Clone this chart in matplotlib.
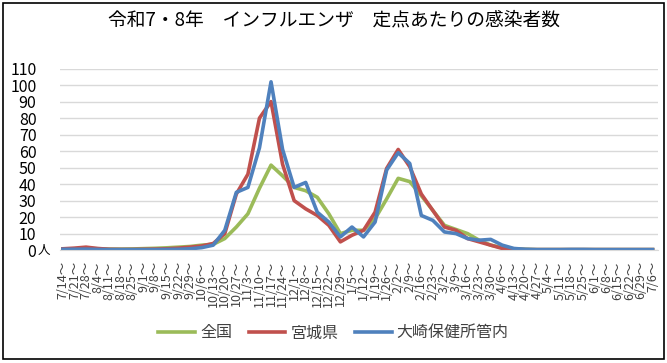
import matplotlib
matplotlib.use("Agg")
import matplotlib.pyplot as plt
from matplotlib.patches import Rectangle

plt.rcParams['font.family'] = ['Noto Sans CJK JP', 'DejaVu Sans']

weeks = ['7/14', '7/21', '7/28', '8/4', '8/11', '8/18', '8/25',
         '9/1', '9/8', '9/15', '9/22', '9/29',
         '10/6', '10/13', '10/20', '10/27',
         '11/3', '11/10', '11/17', '11/24',
         '12/1', '12/8', '12/15', '12/22', '12/29',
         '1/5', '1/12', '1/19', '1/26',
         '2/2', '2/9', '2/16', '2/23',
         '3/2', '3/9', '3/16', '3/23', '3/30',
         '4/6', '4/13', '4/20', '4/27',
         '5/4', '5/11', '5/18', '5/25',
         '6/1', '6/8', '6/15', '6/22', '6/29', '7/6']
tick_labels = [w + '～' for w in weeks]

zenkoku = [0.6, 0.8, 1.0, 0.8, 0.6, 0.6, 0.7, 0.9, 1.1, 1.4, 1.8, 2.2, 3.0,
           3.5, 7, 14, 22, 37.5, 51.5, 45, 38, 36, 32, 22, 10,
           12, 12, 19, 31, 43.5, 41.5, 33, 24, 15, 12.5, 10, 6, 3, 1.5,
           0.8, 0.5, 0.3, 0.3, 0.3, 0.3, 0.3, 0.3, 0.3, 0.3, 0.3, 0.3, 0.3]
miyagi = [0.8, 1.2, 1.8, 1.0, 0.5, 0.4, 0.4, 0.5, 0.6, 0.8, 1.2, 1.8, 2.5,
          4, 10, 34, 46, 80, 90, 52, 30, 25, 21, 15, 5,
          9, 12, 23, 49.5, 61, 50.5, 34, 24, 14, 12, 7, 5, 3, 1,
          0.5, 0.3, 0.3, 0.3, 0.3, 0.3, 0.3, 0.3, 0.3, 0.3, 0.3, 0.3, 0.3]
osaki = [0.5, 0.5, 0.6, 0.4, 0.3, 0.3, 0.3, 0.3, 0.3, 0.4, 0.5, 0.8, 1.5,
         3, 12, 35, 38, 62, 102, 61, 38, 41, 23, 17, 8,
         14, 8, 17, 48.5, 59, 52.5, 21, 18, 11, 10, 7, 6, 6.5, 3,
         1, 0.5, 0.3, 0.3, 0.3, 0.4, 0.4, 0.3, 0.3, 0.3, 0.3, 0.3, 0.3]

fig = plt.figure(figsize=(6.67, 3.63), dpi=100)
ax = fig.add_axes([0.09, 0.311, 0.897, 0.5])

x = list(range(len(weeks)))
ax.plot(x, zenkoku, color='#9BBB59', lw=2.6, label='全国', solid_joinstyle='round')
ax.plot(x, miyagi, color='#C0504D', lw=2.6, label='宮城県', solid_joinstyle='round')
ax.plot(x, osaki, color='#4F81BD', lw=2.6, label='大崎保健所管内', solid_joinstyle='round')

ax.set_ylim(0, 110)
ax.set_yticks(range(0, 111, 10))
ax.set_xlim(-0.25, 51.5)
ax.set_xticks(x)
ax.set_xticklabels(tick_labels, rotation=90, fontsize=9, color='#404040')
ax.tick_params(axis='x', length=0, pad=8)
ax.tick_params(axis='y', length=0, pad=17, labelsize=11.5)
ax.grid(axis='y', color='#d9d9d9', lw=1)
ax.set_axisbelow(True)
for s in ['top', 'right', 'left']:
    ax.spines[s].set_visible(False)
ax.spines['bottom'].set_color('#d9d9d9')

fig.text(0.057, 0.311, '人', fontsize=9, va='center', ha='left')
fig.suptitle('令和7・8年　インフルエンザ　定点あたりの感染者数', y=0.975, fontsize=13.5)

fig.legend(loc='center', bbox_to_anchor=(0.5, 0.083), ncol=3, frameon=False,
           fontsize=11.5, handlelength=2.3, handletextpad=0.3, columnspacing=1.05,
           labelcolor='#404040')

fig.patches.append(Rectangle((0.004, 0.012), 0.991, 0.979, transform=fig.transFigure,
                             fill=False, edgecolor='black', lw=1.2))

fig.savefig('out.png', dpi=100)
